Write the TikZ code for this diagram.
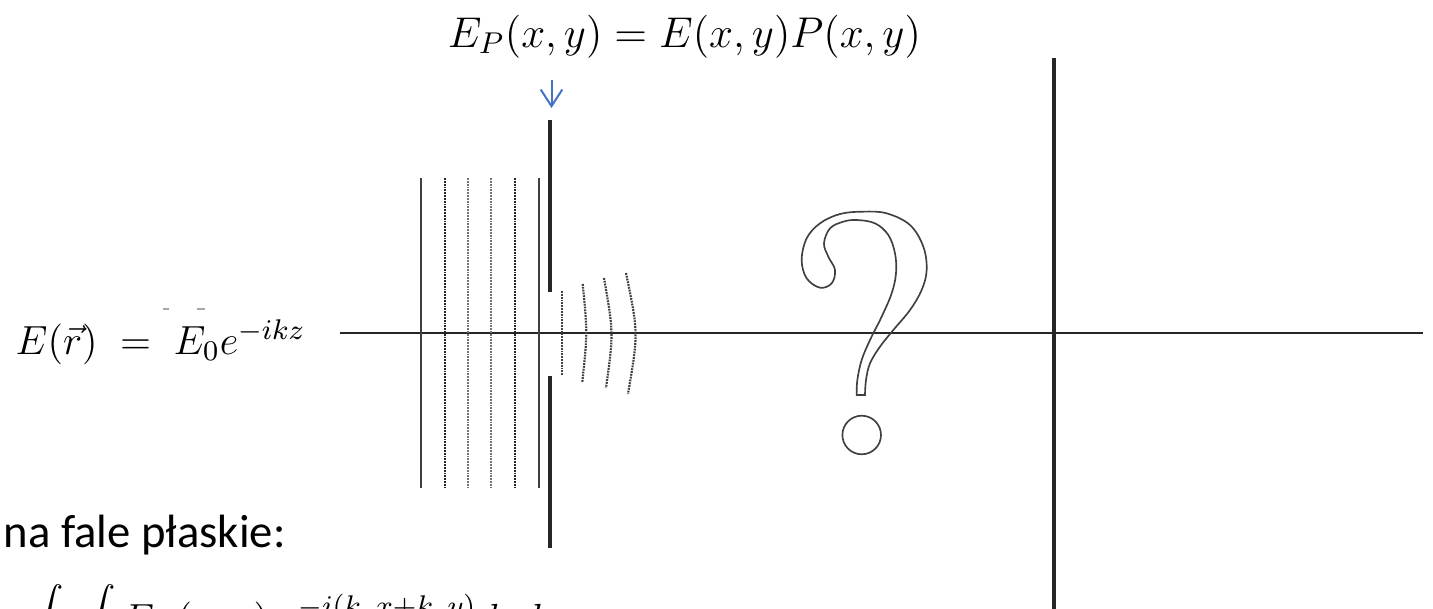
\RequirePackage{fix-cm}
\documentclass[tikz,border=0pt]{standalone}
\usepackage{fontspec}
\newfontfamily\calibri{Carlito}
\usetikzlibrary{arrows.meta}
\definecolor{officeblue}{RGB}{68,114,196}
\begin{document}
\begin{tikzpicture}[x=0.3pt,y=-0.3pt,
  eq/.style={inner sep=0pt, font=\fontsize{12.2}{14}\selectfont},
  eqbig/.style={inner sep=0pt, font=\fontsize{12.9}{15}\selectfont},
  axisline/.style={line width=0.6pt, draw=black!85},
  plane/.style={line width=0.6pt, draw=black!75},
  planedot/.style={line width=0.65pt, draw=black!85, dash pattern=on 0.55pt off 0.3pt},
  planelight/.style={line width=0.65pt, draw=black!55, dash pattern=on 0.55pt off 0.3pt},
  screenline/.style={line width=1pt, draw=black!85},
  wave/.style={line width=0.65pt, draw=black!75, dash pattern=on 0.55pt off 0.3pt},
  qline/.style={line width=0.5pt, draw=black!75},
  pointer/.style={line width=0.6pt, draw=officeblue, -{Straight Barb[length=5pt,width=6.5pt]}},
  speck/.style={line width=0.5pt, draw=black!35}]
\useasboundingbox (0,0) rectangle (1433,609);
\clip (0,0) rectangle (1433,609);

% texts
\node[eqbig, anchor=base] (ep) at (684.5,47) {$E_P(x,y) = E(x,y)P(x,y)$};
\node[eq, anchor=base west] (er) at (15,354) {$E(\vec r)\;=\;E_0e^{-ikz}$};
\node[inner sep=0pt, anchor=base west, font=\calibri\fontsize{14}{16}\selectfont] (nf) at (3,547) {na fale płaskie:};
\node[eq, anchor=base west] (ft) at (30,632) {$\displaystyle\int\;\int E_P(x,y)\;e^{-i(k_xx+k_yy)}dxdy$};

% specks above E_0
\draw[speck] (163,309) -- (169,309);
\draw[speck] (197,309) -- (205,309);

% optical axis
\coordinate (axL) at (340,333);
\coordinate (axR) at (1423,333);
\draw[axisline] (axL) -- (axR);

% plane wave fronts
\draw[plane]      (421,178) -- (421,488);
\draw[planedot]   (445,178) -- (445,488);
\draw[planelight] (468,178) -- (468,488);
\draw[planelight] (491,178) -- (491,488);
\draw[planedot]   (515,178) -- (515,488);
\draw[plane]      (539,178) -- (539,488);

% aperture screen
\coordinate (scA) at (550,120);
\coordinate (scB) at (550,292);
\coordinate (scC) at (550,376);
\coordinate (scD) at (550,548);
\draw[screenline] (scA) -- (scB);
\draw[screenline] (scC) -- (scD);

% diffracted wavelets
\draw[wave] (561.7,291) -- (561.7,375);
\draw[wave] (582.7,284) .. controls (587.5,333) .. (582.3,382);
\draw[wave] (604,278) .. controls (613.6,333) .. (606,388);
\draw[wave] (626,273) .. controls (638.4,333) .. (628,394);

% observation screen
\coordinate (osT) at (1054,58);
\coordinate (osB) at (1054,612);
\draw[screenline] (osT) -- (osB);

% pointer arrow
\coordinate (arTop) at (551.5,80);
\coordinate (arTip) at (551.5,108);
\draw[pointer] (arTop) -- (arTip);

% question mark outline
\begin{scope}[shift={(760,180)}, scale=1/3]
\draw[qline] plot[smooth, tension=0.6] coordinates {
 (315,645) (318,600) (330,550) (360,500) (400,450) (450,390) (485,330)
 (500,270) (490,200) (450,135) (380,100) (310,95) (240,102) (180,130)
 (140,175) (125,240) (140,295) (180,323) (215,310) (225,270) (205,230)
 (192,190) (210,145) (250,125) (290,120) (345,130) (385,165) (405,220)
 (408,280) (395,340) (365,410) (330,480) (305,540) (292,600) (290,645)} -- cycle;
\end{scope}
\draw[qline] (861.7,435) circle[radius=19.3];
\end{tikzpicture}
\end{document}
